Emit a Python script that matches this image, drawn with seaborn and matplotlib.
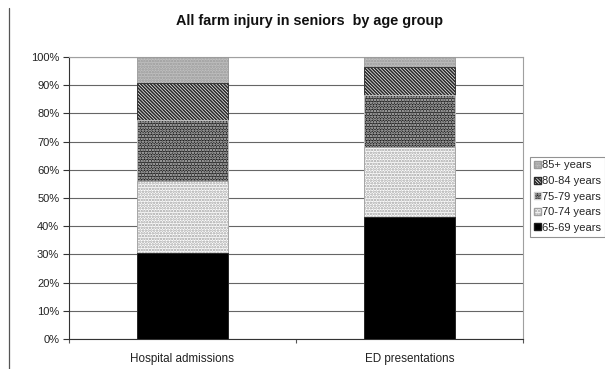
import matplotlib
matplotlib.use("Agg")
import matplotlib.pyplot as plt
import seaborn as sns
import pandas as pd
import numpy as np
from matplotlib.lines import Line2D
from matplotlib.patches import Patch

categories = ["Hospital admissions", "ED presentations"]
age_groups = ["65-69 years", "70-74 years", "75-79 years", "80-84 years", "85+ years"]
share_65_69 = [30.4, 43.4]
share_70_74 = [25.6, 24.8]
share_75_79 = [21.7, 18.3]
share_80_84 = [13.2, 10.1]
share_85_plus = [9.1, 3.4]
yticks = [0, 10, 20, 30, 40, 50, 60, 70, 80, 90, 100]
ytick_labels = [f"{v}%" for v in yticks]

sns.set_theme(style="white")
plt.rcParams["font.family"] = ["Liberation Sans", "DejaVu Sans"]
plt.rcParams["hatch.linewidth"] = 1.2

series = [share_65_69, share_70_74, share_75_79, share_80_84, share_85_plus]
styles = [
    dict(facecolor="black", edgecolor="#202020", hatch=None),
    dict(facecolor="white", edgecolor="#a0a0a0", hatch="......"),
    dict(facecolor="#202020", edgecolor="#d0d0d0", hatch="......"),
    dict(facecolor="white", edgecolor="#2a2a2a", hatch="\\" * 10),
    dict(facecolor="#c0c0c0", edgecolor="#9a9a9a", hatch="......"),
]

cum = np.cumsum(np.array(series), axis=0)

fig = plt.figure(figsize=(6.05, 3.69), dpi=100)
ax = fig.add_axes([69/605, 1-339/369, (523-69)/605, (339-57)/369])

# draw from top (largest cumulative) to bottom so lower layers overlay
for i in range(len(series)-1, -1, -1):
    df = pd.DataFrame({"cat": categories, "val": cum[i]})
    n_before = len(ax.patches)
    sns.barplot(data=df, x="cat", y="val", ax=ax, width=0.405, color="white",
                linewidth=0.6, zorder=3)
    for p in ax.patches[n_before:]:
        st = styles[i]
        p.set_facecolor(st["facecolor"])
        p.set_edgecolor(st["edgecolor"])
        if st["hatch"]:
            p.set_hatch(st["hatch"])

ax.set_ylim(0, 100)
ax.set_xlim(-0.5, 1.5)
ax.set_yticks(yticks)
ax.set_yticklabels(ytick_labels, fontsize=8, color="#222222")
ax.set_xticks([0, 1])
ax.set_xticklabels(categories, fontsize=8.4, color="#222222")
ax.set_xlabel("")
ax.set_ylabel("")
ax.tick_params(axis="x", length=0, pad=10)
ax.set_xticks([-0.5, 0.5, 1.5], minor=True)
ax.tick_params(axis="x", which="minor", length=3, direction="out", color="#555555", width=0.8, bottom=True)
ax.tick_params(axis="y", length=4, direction="out", color="#333333", width=0.8, left=True, pad=3)
ax.yaxis.grid(True, color="#666666", linewidth=0.8, zorder=0)
ax.set_axisbelow(True)
for side in ["top", "right"]:
    ax.spines[side].set_color("#a0a0a0")
    ax.spines[side].set_linewidth(0.8)
for side in ["left", "bottom"]:
    ax.spines[side].set_color("#333333")
    ax.spines[side].set_linewidth(0.8)

fig.text(310/605, 1-21.5/369, "All farm injury in seniors  by age group",
         ha="center", va="center", fontsize=10.4, fontweight="bold", color="#111111")

fig.add_artist(Line2D([9/605, 9/605], [0, 1-8/369], color="#555555", linewidth=0.9))

handles = [Patch(facecolor=styles[i]["facecolor"], edgecolor=styles[i]["edgecolor"],
                 hatch=styles[i]["hatch"], label=age_groups[i]) for i in range(4, -1, -1)]
leg = fig.legend(handles=handles, loc="upper left", bbox_to_anchor=(530/605, 1-156.5/369),
                 fontsize=8, frameon=True, fancybox=False, edgecolor="#777777",
                 handlelength=0.6, handleheight=0.6, handletextpad=0.15,
                 borderpad=0.35, labelspacing=0.5, borderaxespad=0)
leg.get_frame().set_linewidth(0.8)

fig.savefig("out.png", dpi=100)
